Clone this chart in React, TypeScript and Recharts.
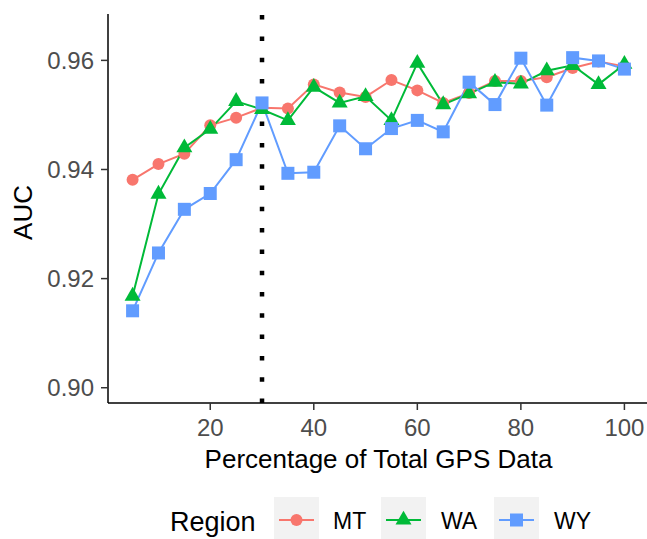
import { LineChart, Line, XAxis, YAxis, ReferenceLine } from "recharts";

const pct = [5, 10, 15, 20, 25, 30, 35, 40, 45, 50, 55, 60, 65, 70, 75, 80, 85, 90, 95, 100];
const mt = [0.9381, 0.941, 0.9429, 0.9481, 0.9495, 0.9513, 0.9512, 0.9556, 0.9541, 0.9533, 0.9564, 0.9545, 0.9522, 0.954, 0.9562, 0.9562, 0.9569, 0.9586, 0.9598, 0.9589];
const wa = [0.9168, 0.9355, 0.944, 0.9474, 0.9525, 0.951, 0.949, 0.9551, 0.9522, 0.9534, 0.949, 0.9595, 0.9519, 0.9539, 0.956, 0.9557, 0.9581, 0.9591, 0.9556, 0.9593];
const wy = [0.9141, 0.9247, 0.9327, 0.9356, 0.9418, 0.9522, 0.9393, 0.9395, 0.948, 0.9438, 0.9475, 0.949, 0.9469, 0.956, 0.9519, 0.9604, 0.9518, 0.9605, 0.9599, 0.9584];
const xTicks = [20, 40, 60, 80, 100];
const yTicks = [0.9, 0.92, 0.94, 0.96];
const cutoff = 30;

const C_MT = "#F8766D";
const C_WA = "#00BA38";
const C_WY = "#619CFF";
const FONT = "'Liberation Sans', Arial, sans-serif";

const rows = pct.map((p, i) => ({ pct: p, MT: mt[i], WA: wa[i], WY: wy[i] }));

function circle(color: string, r = 6) {
  return (p: any) => <circle key={`c-${p.index}`} cx={p.cx} cy={p.cy} r={r} fill={color} />;
}

function triangle(color: string) {
  return (p: any) => {
    const r = 9.2, xc = 8, yc = 4.6;
    const pts = `${p.cx},${p.cy - r} ${p.cx + xc},${p.cy + yc} ${p.cx - xc},${p.cy + yc}`;
    return <polygon key={`t-${p.index}`} points={pts} fill={color} />;
  };
}

function square(color: string) {
  return (p: any) => (
    <rect key={`s-${p.index}`} x={p.cx - 6.5} y={p.cy - 6.5} width={13} height={13} fill={color} />
  );
}

function Legend() {
  const keys = [
    { name: "MT", color: C_MT, box: 274, text: 333, mark: "circle" },
    { name: "WA", color: C_WA, box: 381, text: 441, mark: "triangle" },
    { name: "WY", color: C_WY, box: 494, text: 554, mark: "square" },
  ];
  return (
    <svg width={647} height={539} style={{ position: "absolute", left: 0, top: 0, pointerEvents: "none" }}>
      <text x={170} y={531} fontSize={27} fontFamily={FONT} fill="#000">
        Region
      </text>
      {keys.map((k) => {
        const cx = k.box + 22.5;
        const cy = 520;
        return (
          <g key={k.name}>
            <rect x={k.box} y={497} width={45} height={45} fill="#F2F2F2" />
            <line x1={k.box + 5} x2={k.box + 40} y1={cy} y2={cy} stroke={k.color} strokeWidth={2} />
            {k.mark === "circle" && <circle cx={cx} cy={cy} r={6} fill={k.color} />}
            {k.mark === "triangle" && (
              <polygon points={`${cx},${cy - 9.2} ${cx + 8},${cy + 4.6} ${cx - 8},${cy + 4.6}`} fill={k.color} />
            )}
            {k.mark === "square" && <rect x={cx - 6.5} y={cy - 6.5} width={13} height={13} fill={k.color} />}
            <text x={k.text} y={529} fontSize={23} fontFamily={FONT} fill="#000">
              {k.name}
            </text>
          </g>
        );
      })}
    </svg>
  );
}

export default function App() {
  const tickStyle = { fill: "#4D4D4D", fontSize: 24, fontFamily: FONT };
  return (
    <div style={{ position: "absolute", left: 0, top: 0, width: 647, height: 539, overflow: "hidden", background: "#fff" }}>
      <LineChart width={649} height={539} data={rows} margin={{ top: 14, right: 0, left: 0, bottom: 0 }}>
        <XAxis
          dataKey="pct"
          type="number"
          domain={[0.25, 104.75]}
          ticks={xTicks}
          height={136}
          tick={tickStyle}
          tickSize={7}
          tickMargin={9}
          axisLine={{ stroke: "#000", strokeWidth: 1.5 }}
          tickLine={{ stroke: "#333", strokeWidth: 1.5 }}
          label={{ value: "Percentage of Total GPS Data", position: "insideBottom", offset: 71, fill: "#000", fontSize: 26, fontFamily: FONT }}
        />
        <YAxis
          type="number"
          domain={[0.8972, 0.9685]}
          ticks={yTicks}
          width={108}
          tick={tickStyle}
          tickSize={7}
          tickMargin={7}
          tickFormatter={(v: number) => v.toFixed(2)}
          axisLine={{ stroke: "#000", strokeWidth: 1.5 }}
          tickLine={{ stroke: "#333", strokeWidth: 1.5 }}
          label={{
            value: "AUC",
            content: (props: any) => {
              const vb = props.viewBox;
              const y = vb.y + vb.height / 2 + 4;
              return (
                <text x={32} y={y} transform={`rotate(-90 32 ${y})`} textAnchor="middle" fontSize={26} fontFamily={FONT} fill="#000">
                  AUC
                </text>
              );
            },
          }}
        />
        <Line type="linear" dataKey="MT" stroke={C_MT} strokeWidth={2} dot={circle(C_MT)} activeDot={false} isAnimationActive={false} />
        <Line type="linear" dataKey="WA" stroke={C_WA} strokeWidth={2} dot={triangle(C_WA)} activeDot={false} isAnimationActive={false} />
        <Line type="linear" dataKey="WY" stroke={C_WY} strokeWidth={2} dot={square(C_WY)} activeDot={false} isAnimationActive={false} />
        <ReferenceLine x={cutoff} stroke="#000" strokeWidth={4.5} strokeDasharray="4.5 16.8" />
      </LineChart>
      <Legend />
    </div>
  );
}
